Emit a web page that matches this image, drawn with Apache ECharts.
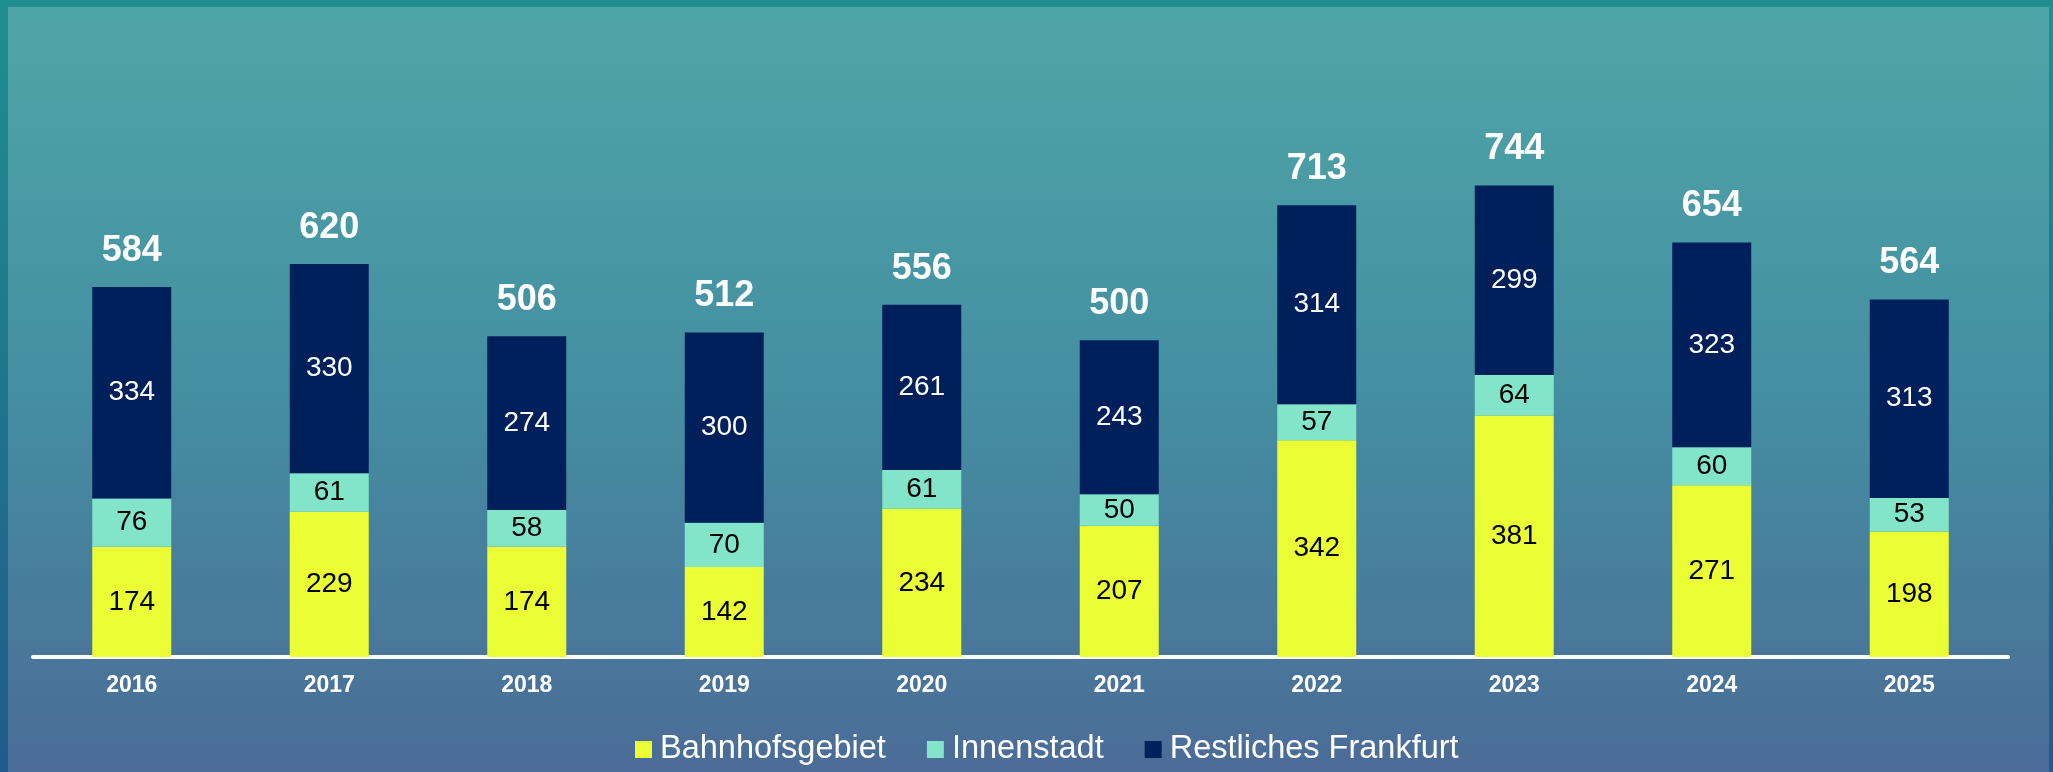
<!DOCTYPE html>
<html>
<head>
<meta charset="utf-8">
<script src="https://cdn.jsdelivr.net/npm/echarts@6/dist/echarts.min.js"></script>
<style>
  html, body { margin: 0; padding: 0; width: 2053px; height: 772px; overflow: hidden; }
  #main { position: absolute; left: 0; top: 0; width: 2053px; height: 772px; }
  #frame {
    position: absolute; left: 0; top: 0; right: 0; bottom: 0;
    pointer-events: none;
    border-style: solid;
    border-width: 7px 4px 0 8px;
    border-image: linear-gradient(#1f8e8f, #1f5b8b) 1;
  }
</style>
</head>
<body>
<div id="main"></div>
<div id="frame"></div>
<script>
const years = ["2016", "2017", "2018", "2019", "2020", "2021", "2022", "2023", "2024", "2025"];
const bahnhofsgebiet = [174, 229, 174, 142, 234, 207, 342, 381, 271, 198];
const innenstadt = [76, 61, 58, 70, 61, 50, 57, 64, 60, 53];
const restlichesFrankfurt = [334, 330, 274, 300, 261, 243, 314, 299, 323, 313];
const totals = years.map((y, i) => bahnhofsgebiet[i] + innenstadt[i] + restlichesFrankfurt[i]);

const font = "'Liberation Sans', Arial, sans-serif";

function segment(name, data, color, labelColor) {
  return {
    name: name,
    type: "bar",
    stack: "Total",
    barWidth: 79,
    itemStyle: { color: color },
    label: {
      show: true,
      position: "inside",
      color: labelColor,
      fontSize: 28,
      fontFamily: font,
    },
    data: data,
  };
}

const myChart = echarts.init(document.getElementById("main"));
myChart.setOption({
  animation: false,
  backgroundColor: {
    type: "linear", x: 0, y: 0, x2: 0, y2: 1,
    colorStops: [
      { offset: 0, color: "#4fa6a7" },
      { offset: 0.5, color: "#448fa2" },
      { offset: 1, color: "#4b6c97" },
    ],
  },
  grid: { left: 33, right: 45, top: 150, bottom: 115 },
  legend: {
    data: ["Bahnhofsgebiet", "Innenstadt", "Restliches Frankfurt"],
    left: 635,
    top: 733,
    padding: 0,
    icon: "rect",
    itemWidth: 17,
    itemHeight: 17,
    itemGap: 41,
    textStyle: { color: "#ffffff", fontSize: 32.5, fontFamily: font, padding: [0, 0, 0, 3] },
  },
  xAxis: {
    type: "category",
    data: years,
    axisLine: { lineStyle: { color: "#ffffff", width: 4 } },
    axisTick: { show: false },
    axisLabel: { color: "#ffffff", fontSize: 23, fontWeight: "bold", fontFamily: font, margin: 17 },
  },
  yAxis: {
    type: "value",
    min: 0,
    max: 800,
    show: false,
    splitLine: { show: false },
  },
  series: [
    segment("Bahnhofsgebiet", bahnhofsgebiet, "#ebfd34", "#000000"),
    segment("Innenstadt", innenstadt, "#82e4c9", "#000000"),
    segment("Restliches Frankfurt", restlichesFrankfurt, "#00205c", "#ffffff"),
    {
      name: "Gesamt",
      type: "bar",
      barWidth: 79,
      barGap: "-100%",
      z: 1,
      itemStyle: { color: "rgba(0,0,0,0)" },
      label: {
        show: true,
        position: "top",
        distance: 18,
        color: "#ffffff",
        fontSize: 36,
        fontWeight: "bold",
        fontFamily: font,
      },
      data: totals,
    },
  ],
});
</script>
</body>
</html>
